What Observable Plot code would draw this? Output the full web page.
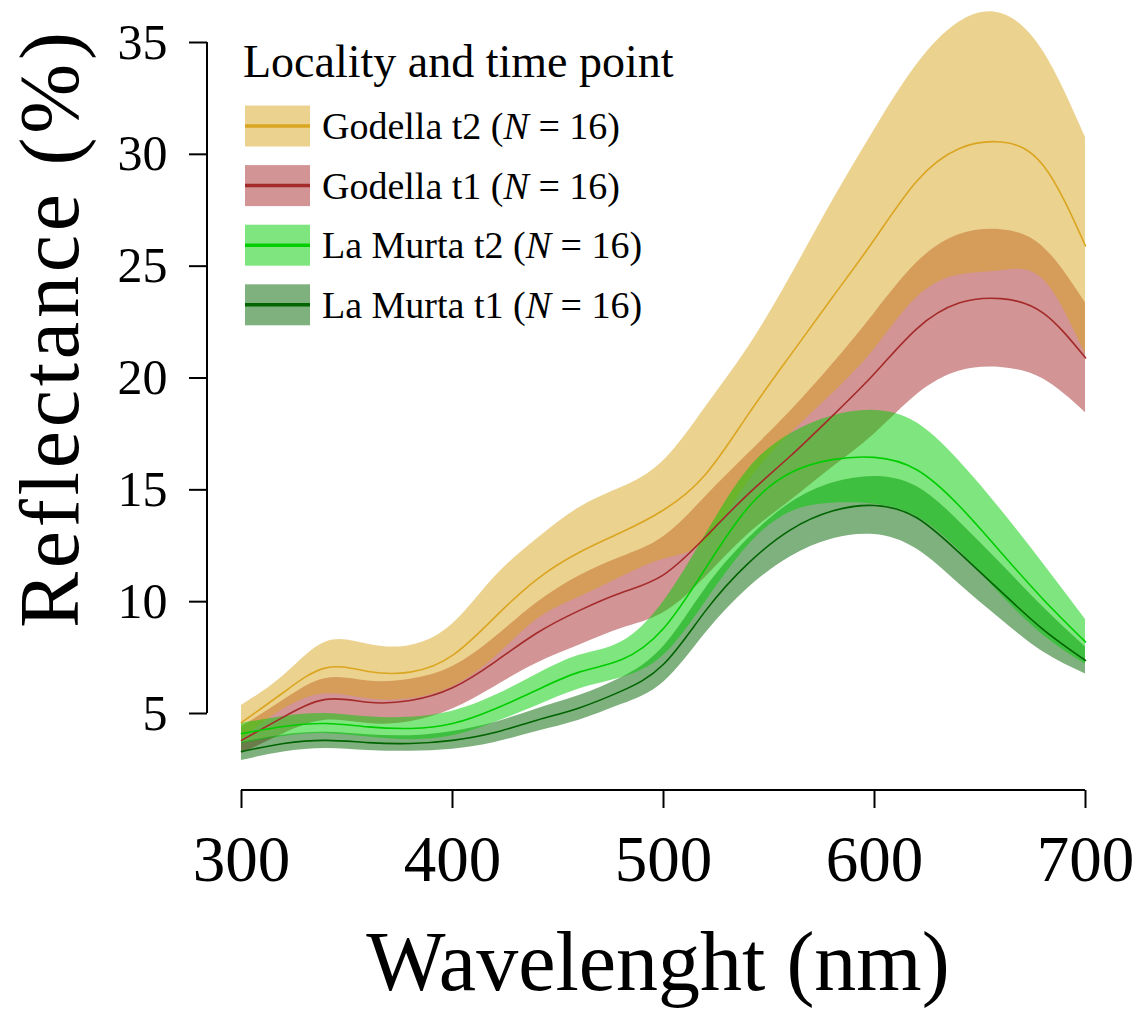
<!DOCTYPE html>
<html><head><meta charset="utf-8">
<script src="https://cdn.jsdelivr.net/npm/d3@7"></script>
<script src="https://cdn.jsdelivr.net/npm/@observablehq/plot@0.6"></script>
<style>
body{margin:0;background:#fff}
svg{font-family:"Liberation Serif",serif}
</style>
</head><body><div id="chart"></div>
<script>
// ---- data ----
const wavelength = [300,320,340,360,380,400,420,440,460,480,500,520,540,560,580,600,620,640,660,680,700];
const seriesNames = ["Godella t2", "Godella t1", "La Murta t2", "La Murta t1"];
const seriesN = [16, 16, 16, 16];
const seriesColors = ["#DAA520", "#A52A2A", "#00CD00", "#006400"];
const godellaT2Mean = [4.6,5.95,7.04,6.88,6.85,7.6,9.3,11.0,12.2,13.1,14.1,15.7,18.35,21.0,23.6,26.2,28.8,30.25,30.55,29.5,25.9];
const godellaT2SE   = [0.76,0.75,1.16,1.22,1.19,1.4,1.8,1.8,2.0,2.0,2.2,3.0,3.0,3.5,4.3,4.9,5.2,5.65,5.75,5.1,4.85];
const godellaT1Mean = [3.8,4.85,5.63,5.5,5.58,6.15,7.3,8.6,9.6,10.4,11.2,12.9,14.8,16.5,18.3,20.2,22.2,23.35,23.55,22.9,20.9];
const godellaT1SE   = [0.6,0.75,0.93,0.95,0.95,0.95,1.1,1.35,1.55,1.6,1.7,1.8,1.8,2.0,2.3,2.7,2.95,3.05,3.08,2.95,2.45];
const laMurtaT2Mean = [4.1,4.42,4.55,4.4,4.33,4.55,5.2,6.05,6.85,7.4,8.8,11.5,14.2,15.75,16.35,16.45,15.9,14.3,12.2,10.1,8.2];
const laMurtaT2SE   = [0.45,0.45,0.45,0.45,0.5,0.55,0.6,0.7,0.75,0.8,1.2,1.5,1.7,1.75,1.95,2.1,2.1,2.0,1.9,1.6,1.0];
const laMurtaT1Mean = [3.3,3.66,3.8,3.7,3.66,3.8,4.15,4.7,5.25,6.0,7.2,9.6,11.7,13.2,14.05,14.3,13.75,12.2,10.45,8.75,7.37];
const laMurtaT1SE   = [0.4,0.38,0.36,0.35,0.35,0.4,0.45,0.5,0.55,0.6,0.8,1.0,1.1,1.2,1.25,1.3,1.4,1.4,1.25,1.0,0.6];
const yTicks = [5,10,15,20,25,30,35];
const xTicks = [300,400,500,600,700];
const legendTitle = "Locality and time point";
const xTitle = "Wavelenght (nm)";
const yTitle = "Reflectance (%)";

// ---- build table ----
const means = [godellaT2Mean, godellaT1Mean, laMurtaT2Mean, laMurtaT1Mean];
const ses = [godellaT2SE, godellaT1SE, laMurtaT2SE, laMurtaT1SE];
const rows = [];
seriesNames.forEach((name, s) => wavelength.forEach((w, i) => rows.push({
  series: name, wl: w, mean: means[s][i], lo: means[s][i] - ses[s][i], hi: means[s][i] + ses[s][i]
})));
const drawOrder = ["Godella t1", "Godella t2", "La Murta t1", "La Murta t2"];
const bySeries = name => rows.filter(d => d.series === name);

const W = 1140, H = 1019, ML = 207, MR = 55, MB = 229;
const plot = Plot.plot({
  width: W, height: H, marginLeft: ML, marginRight: MR, marginTop: 0, marginBottom: MB,
  x: {domain: [300, 700], range: [241, 1085]},
  y: {domain: [5, 35], range: [713, 42]},
  color: {domain: seriesNames, range: seriesColors},
  style: {fontFamily: "Liberation Serif", background: "#fff", color: "#000"},
  marks: [
    ...drawOrder.map(n => Plot.areaY(bySeries(n), {x: "wl", y1: "lo", y2: "hi", fill: "series", fillOpacity: 0.5, curve: "natural"})),
    ...drawOrder.map(n => Plot.lineY(bySeries(n), {x: "wl", y: "mean", stroke: "series", strokeWidth: 1.6, curve: "natural"})),
    Plot.axisY({ticks: yTicks, tickSize: 18, tickPadding: 22, fontSize: 50, label: null, strokeWidth: 2}),
    Plot.axisX({ticks: xTicks, tickSize: 18, tickPadding: 26, fontSize: 65, label: null, strokeWidth: 2})
  ]
});
document.getElementById("chart").appendChild(plot);

const sx = plot.scale("x"), sy = plot.scale("y");
const svg = d3.select(plot);
// axis lines (R style: spanning first to last tick)
svg.append("line").attr("x1", ML).attr("x2", ML)
  .attr("y1", sy.apply(yTicks[0])).attr("y2", sy.apply(yTicks[yTicks.length - 1]))
  .attr("stroke", "#000").attr("stroke-width", 2);
svg.append("line").attr("y1", H - MB).attr("y2", H - MB)
  .attr("x1", sx.apply(xTicks[0])).attr("x2", sx.apply(xTicks[xTicks.length - 1]))
  .attr("stroke", "#000").attr("stroke-width", 2);
// axis titles
svg.append("text").attr("x", 658).attr("y", 990).attr("text-anchor", "middle")
  .attr("font-size", 84).attr("fill", "#000").text(xTitle);
svg.append("text").attr("transform", "translate(78,330) rotate(-90)").attr("text-anchor", "middle")
  .attr("font-size", 84).attr("textLength", 596).attr("lengthAdjust", "spacing")
  .attr("fill", "#000").text(yTitle);
// legend
const lg = svg.append("g").attr("text-anchor", "start");
lg.append("text").attr("x", 243).attr("y", 77).attr("font-size", 46).attr("fill", "#000").text(legendTitle);
seriesNames.forEach((name, i) => {
  const cy = 126 + i * 59.6;
  lg.append("rect").attr("x", 245).attr("y", cy - 20.5).attr("width", 65).attr("height", 41)
    .attr("fill", seriesColors[i]).attr("fill-opacity", 0.5);
  lg.append("line").attr("x1", 245).attr("x2", 310).attr("y1", cy).attr("y2", cy)
    .attr("stroke", seriesColors[i]).attr("stroke-width", 3.5);
  const t = lg.append("text").attr("x", 322).attr("y", cy + 13).attr("font-size", 38).attr("fill", "#000");
  t.append("tspan").text(name + " (");
  t.append("tspan").attr("font-style", "italic").text("N");
  t.append("tspan").text(" = " + seriesN[i] + ")");
});
</script>
</body></html>
